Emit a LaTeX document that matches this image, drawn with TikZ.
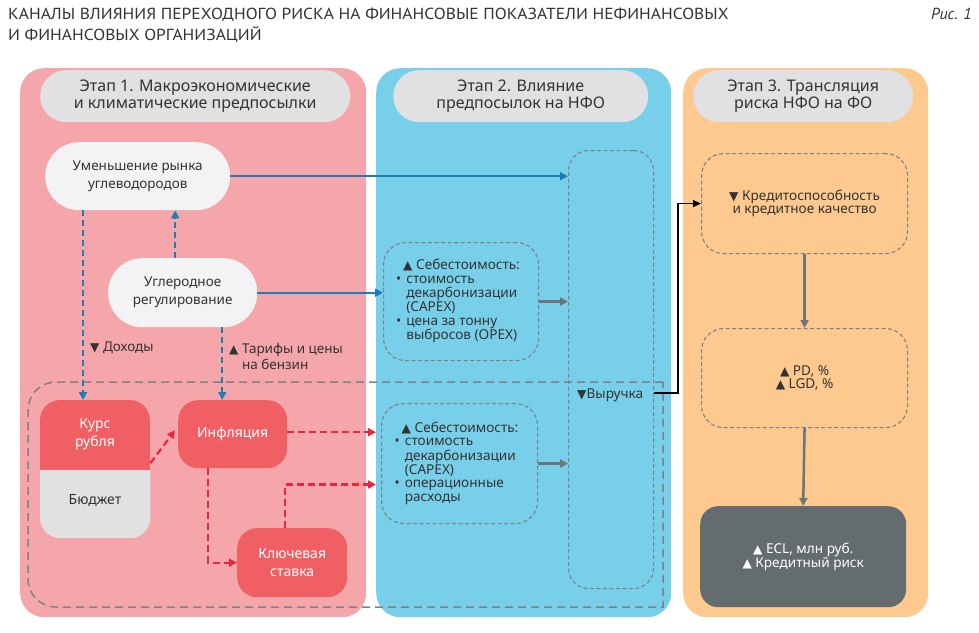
\documentclass[tikz,border=0pt]{standalone}
\usepackage{fontspec}
\usepackage{graphicx}
\setmainfont{Noto Sans}
\newfontfamily\titlefont{PT Sans}
\newfontfamily\symfont{DejaVu Sans}
\usetikzlibrary{arrows.meta}
\definecolor{pinkp}{HTML}{F5A6AB}
\definecolor{bluep}{HTML}{78CFE9}
\definecolor{orangep}{HTML}{FDC98E}
\definecolor{headg}{HTML}{E1E1E3}
\definecolor{pillw}{HTML}{F3F3F5}
\definecolor{redb}{HTML}{EF5F64}
\definecolor{darkb}{HTML}{646C6F}
\definecolor{dashg}{HTML}{7D8286}
\definecolor{bluea}{HTML}{1F7DB5}
\definecolor{reda}{HTML}{E8283E}
\definecolor{graya}{HTML}{6E7478}
\definecolor{txt}{HTML}{333333}
\newcommand\upT{{\symfont\scalebox{0.9}{▲}}}
\newcommand\dnT{{\symfont\scalebox{0.9}{▼}}}
\begin{document}
\begin{tikzpicture}[x=1pt,y=-1pt,
  panel/.style={rounded corners=24pt, inner sep=0pt, anchor=north west},
  header/.style={fill=headg, rounded corners=26pt, inner sep=0pt, anchor=north west, align=center, text=txt, font=\fontsize{16}{17}\selectfont},
  pill/.style={fill=pillw, rounded corners=34pt, inner sep=0pt, anchor=north west, align=center, text=txt, font=\fontsize{13.5}{18}\selectfont},
  redbox/.style={fill=redb, rounded corners=20pt, inner sep=0pt, anchor=north west, align=center, text=white, font=\fontsize{14}{18}\selectfont},
  dbox/.style={draw=dashg, line width=1.1pt, dash pattern=on 4pt off 2.5pt, rounded corners=22pt, inner sep=0pt, anchor=north west, align=center, text=txt, font=\fontsize{13.6}{13.6}\selectfont},
  bluearr/.style={draw=bluea, line width=2.2pt, -{Triangle[length=8pt,width=8pt]}},
  bluedash/.style={bluearr, dash pattern=on 6pt off 4pt},
  reddash/.style={draw=reda, line width=2.2pt, dash pattern=on 7pt off 4pt, -{Triangle[length=8pt,width=8pt]}},
  grayarr/.style={draw=graya, line width=2.5pt, -{Triangle[length=8pt,width=8pt]}},
  blackarr/.style={draw=black, line width=1.4pt, -{Triangle[length=8pt,width=7pt]}},
  lbl/.style={inner sep=0pt, anchor=west, text=txt, font=\fontsize{13.5}{17}\selectfont},
  ttl/.style={inner sep=0pt, text=txt, font=\titlefont\fontsize{16}{21}\selectfont},
]
\useasboundingbox (0,0) rectangle (979,632);
% title
\node[ttl, anchor=base west] (title1) at (8,19) {\scalebox{1.09}[1]{КАНАЛЫ ВЛИЯНИЯ ПЕРЕХОДНОГО РИСКА НА ФИНАНСОВЫЕ ПОКАЗАТЕЛИ НЕФИНАНСОВЫХ}};
\node[ttl, anchor=base west] (title2) at (8,40) {\scalebox{1.09}[1]{И ФИНАНСОВЫХ ОРГАНИЗАЦИЙ}};
\node[ttl, anchor=base east, font=\titlefont\itshape\fontsize{16}{18}\selectfont] (fig) at (972,19) {Рис. 1};
% panels
\node[panel, fill=pinkp, minimum width=346pt, minimum height=549pt] (p1) at (20,68) {};
\node[panel, fill=bluep, minimum width=295pt, minimum height=549pt] (p2) at (376,68) {};
\node[panel, fill=orangep, minimum width=245pt, minimum height=549pt] (p3) at (683,68) {};
% headers
\node[header, minimum width=310pt, minimum height=52pt] (h1) at (40,70) {Этап 1. Макроэкономические\\и климатические предпосылки};
\node[header, minimum width=255pt, minimum height=52pt] (h2) at (393,70) {Этап 2. Влияние\\предпосылок на НФО};
\node[header, minimum width=220pt, minimum height=52pt] (h3) at (693,70) {Этап 3. Трансляция\\риска НФО на ФО};
% stage 1 nodes
\node[pill, minimum width=185pt, minimum height=68pt] (um) at (45,142) {Уменьшение рынка\\углеводородов};
\node[pill, minimum width=149pt, minimum height=69pt] (ug) at (108,258) {Углеродное\\регулирование};
\node[fill=headg, rounded corners=20pt, inner sep=0pt, anchor=north west, minimum width=110pt, minimum height=138pt] (kurs) at (40,400) {};
\begin{scope}
\clip (40,400) rectangle (150,469);
\fill[redb, rounded corners=20pt] (40,400) rectangle (150,538);
\end{scope}
\node[inner sep=0pt, align=center, text=white, font=\fontsize{14}{18}\selectfont] (kursT) at (95,434) {Курс\\рубля};
\node[inner sep=0pt, text=txt, font=\fontsize{14}{18}\selectfont] (budT) at (95,500) {Бюджет};
\node[redbox, minimum width=109pt, minimum height=68pt] (infl) at (178,400) {Инфляция};
\node[redbox, minimum width=110pt, minimum height=69pt] (klyuch) at (237,528) {Ключевая\\ставка};
% labels
\node[lbl] (doh) at (90,348) {\dnT\ Доходы};
\node[lbl, anchor=north west, align=left] (tar) at (229,341) {\upT\ \begin{tabular}[t]{@{}l@{}}Тарифы и цены\\[-0.5pt]на бензин\end{tabular}};
% stage 2 nodes
\node[dbox, minimum width=155pt, minimum height=118pt] (seb1) at (383,242) {\begin{tabular}{@{}l@{\hspace{5pt}}l@{}}\multicolumn{2}{@{}l}{\hspace{7pt}\upT\ Себестоимость:}\\•&стоимость\\&декарбонизации\\&(CAPEX)\\•&цена за тонну\\&выбросов (OPEX)\end{tabular}};
\node[dbox, minimum width=156pt, minimum height=120pt] (seb2) at (381,403) {\begin{tabular}{@{}l@{\hspace{5pt}}l@{}}\multicolumn{2}{@{}l}{\hspace{7pt}\upT\ Себестоимость:}\\•&стоимость\\&декарбонизации\\&(CAPEX)\\•&операционные\\&расходы\end{tabular}};
\node[dbox, rounded corners=20pt, minimum width=85pt, minimum height=438pt] (tall) at (568,150) {};
\node[lbl, font=\fontsize{13.6}{15}\selectfont] (vyr) at (577,395) {\dnT Выручка};
% stage 3 nodes
\node[dbox, minimum width=206pt, minimum height=100pt] (kred) at (701,153) {\dnT\ Кредитоспособность\\и кредитное качество};
\node[dbox, minimum width=206pt, minimum height=99pt] (pd) at (701,328) {\upT\ PD, \%\\\upT\ LGD, \%};
\node[fill=darkb, rounded corners=18pt, inner sep=0pt, anchor=north west, align=center, text=white, font=\fontsize{13.6}{13.6}\selectfont, minimum width=206pt, minimum height=101pt] (ecl) at (700,506) {\upT\ ECL, млн руб.\\\upT\ Кредитный риск};
% big dashed frame
\draw[dashg, line width=1.5pt, dash pattern=on 8pt off 5pt] (663,382) -- (56,382) .. controls (40.5,382) and (28,394.5) .. (28,410) -- (28,579) .. controls (28,594.5) and (40.5,607) .. (56,607) -- (663,607) -- cycle;
% blue arrows
\draw[bluearr] (um.east) -- (um.east -| tall.west);
\draw[bluearr] (ug.east) -- (ug.east -| seb1.west);
\draw[bluedash] ([xshift=-7.5pt]ug.north) -- ([xshift=-7.5pt]ug.north |- um.south);
\draw[bluedash] ([xshift=38pt]um.south west) -- ([xshift=38pt]um.south west |- kurs.north);
\draw[bluedash] ([xshift=-10.5pt]infl.north |- ug.south) -- ([xshift=-10.5pt]infl.north);
% red arrows
\draw[reddash] ([yshift=6pt]kurs.east) -- ([xshift=-3pt,yshift=4pt]infl.west);
\draw[reddash, shorten >=5pt] ([yshift=2pt]infl.east) -- ([yshift=2pt]infl.east -| seb2.west);
\draw[reddash] ([xshift=-24.5pt]infl.south) |- (klyuch.west);
\draw[reddash, shorten >=5pt] ([xshift=-7pt]klyuch.north) |- ([yshift=-21pt]seb2.west);
% gray arrows
\draw[grayarr] (seb1.east) -- (seb1.east -| tall.west);
\draw[grayarr] (seb2.east) -- (seb2.east -| tall.west);
\draw[grayarr] (kred.south) -- (pd.north);
\draw[grayarr] (pd.south) -- (ecl.north);
% black connector
\draw[blackarr] ([yshift=2pt]vyr.east -| tall.east) -- ++(24,0) |- (kred.west);
\end{tikzpicture}
\end{document}
